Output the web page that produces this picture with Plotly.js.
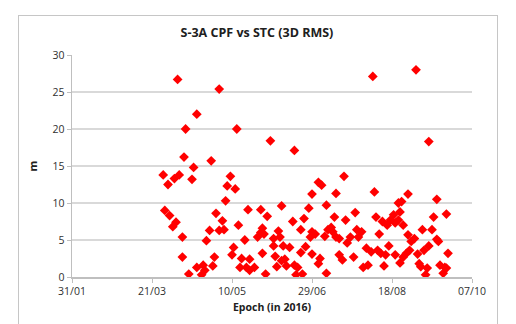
<!DOCTYPE html>
<html>
<head>
<meta charset="utf-8">
<script src="https://cdn.plot.ly/plotly-3.0.1.min.js"></script>
<style>
  html, body { margin: 0; padding: 0; background: #ffffff; overflow: hidden; }
  #chart { position: absolute; left: 0; top: 0; width: 516px; height: 324px; }
  #frame { position: absolute; left: 18px; top: 15px; width: 478px; height: 330px;
           border: 1.5px solid #c6c6c6; pointer-events: none; }
</style>
</head>
<body>
<div id="chart"></div>
<div id="frame"></div>
<script>
// Epoch dates (2016) and 3D RMS values (m)
const epochs = [
  '2016-04-06','2016-05-02','2016-04-18','2016-04-11','2016-05-13','2016-06-03','2016-06-18','2016-08-06','2016-09-02','2016-09-10',
  '2016-04-10','2016-04-27','2016-04-16','2016-03-28','2016-03-31','2016-04-04','2016-04-07','2016-04-15','2016-05-09','2016-05-07',
  '2016-05-12','2016-05-06','2016-03-29','2016-04-01','2016-04-05','2016-04-03','2016-04-09','2016-04-30','2016-05-04','2016-04-26',
  '2016-05-02','2016-05-05','2016-04-24','2016-04-09','2016-04-29','2016-05-10','2016-05-11','2016-04-28','2016-04-22','2016-04-23',
  '2016-04-18','2016-04-13','2016-04-21','2016-06-29','2016-07-03','2016-07-05','2016-05-20','2016-05-28','2016-06-01','2016-06-10',
  '2016-06-27','2016-06-24','2016-06-17','2016-05-14','2016-05-29','2016-05-28','2016-05-26','2016-05-30','2016-06-08','2016-06-09',
  '2016-06-05','2016-06-22','2016-06-29','2016-06-28','2016-07-01','2016-05-18','2016-06-05','2016-06-11','2016-06-15','2016-06-25',
  '2016-05-29','2016-06-06','2016-06-12','2016-06-10','2016-06-22','2016-06-29','2016-05-16','2016-05-21','2016-05-15','2016-05-19',
  '2016-05-24','2016-05-21','2016-06-07','2016-06-13','2016-06-18','2016-06-20','2016-05-31','2016-06-19','2016-06-23','2016-07-19',
  '2016-07-14','2016-08-07','2016-07-08','2016-08-22','2016-07-26','2016-07-13','2016-07-20','2016-08-08','2016-08-12','2016-08-17',
  '2016-08-19','2016-08-15','2016-08-20','2016-07-11','2016-07-09','2016-07-12','2016-07-07','2016-07-14','2016-07-16','2016-07-27',
  '2016-07-30','2016-07-28','2016-07-23','2016-07-21','2016-08-10','2016-08-16','2016-08-02','2016-08-05','2016-08-09','2016-08-11',
  '2016-08-14','2016-07-16','2016-07-18','2016-07-04','2016-07-03','2016-07-25','2016-08-03','2016-07-31','2016-08-13','2016-08-20',
  '2016-07-08','2016-08-28','2016-08-24','2016-09-15','2016-09-21','2016-08-23','2016-08-22','2016-09-13','2016-08-25','2016-09-06',
  '2016-09-12','2016-08-28','2016-09-01','2016-08-30','2016-09-15','2016-09-16','2016-09-10','2016-08-29','2016-08-27','2016-08-25',
  '2016-08-23','2016-09-03','2016-09-07','2016-09-22','2016-09-04','2016-09-05','2016-09-09','2016-09-08','2016-09-17','2016-09-20',
  '2016-09-19','2016-09-21'
];
const rms = [
  26.7, 25.4, 22.0, 20.0, 20.0, 18.4, 17.1, 27.1, 28.0, 18.3,
  16.2, 15.7, 14.8, 13.8, 12.5, 13.3, 13.8, 13.2, 13.6, 12.3,
  11.9, 10.3, 9.0, 8.3, 7.4, 6.8, 5.4, 8.6, 7.6, 6.3,
  6.3, 6.4, 4.9, 2.7, 2.7, 3.0, 4.0, 1.5, 1.6, 0.9,
  1.3, 0.4, 0.3, 11.2, 12.8, 12.4, 9.1, 9.1, 8.2, 9.6,
  9.3, 7.9, 7.5, 7.0, 6.6, 6.0, 5.4, 5.8, 6.2, 5.4,
  5.2, 6.4, 6.1, 5.4, 5.8, 5.0, 4.2, 4.2, 4.0, 4.1,
  3.2, 2.8, 2.4, 2.2, 3.3, 3.1, 2.5, 2.4, 1.3, 1.3,
  1.3, 0.9, 1.4, 1.5, 1.6, 1.3, 0.4, 0.3, 0.4, 13.6,
  11.3, 11.5, 9.7, 10.0, 8.7, 8.1, 7.7, 8.1, 7.5, 7.7,
  8.4, 7.0, 7.3, 6.7, 6.4, 6.1, 5.5, 5.4, 5.2, 6.4,
  6.1, 5.4, 5.4, 4.6, 5.8, 4.2, 3.9, 3.4, 3.6, 3.2,
  3.0, 3.0, 2.3, 2.5, 1.8, 2.7, 1.6, 1.3, 1.5, 3.0,
  0.5, 11.2, 10.2, 10.5, 8.5, 8.8, 7.7, 8.1, 7.0, 6.4,
  6.4, 5.7, 5.2, 4.8, 5.1, 4.8, 4.2, 3.6, 3.2, 2.7,
  1.9, 3.1, 3.6, 3.2, 1.8, 1.4, 1.2, 0.3, 1.6, 1.3,
  0.5, 1.2
];
const chartTitle = 'S-3A CPF vs STC (3D RMS)';
const xTitle = 'Epoch (in 2016)';
const yTitle = 'm';
const xRange = ['2016-01-31', '2016-10-07'];
const yRange = [0, 30];

const fontFam = '"Open Sans", "Liberation Sans", sans-serif';

const trace = {
  type: 'scatter',
  mode: 'markers',
  x: epochs,
  y: rms,
  marker: { symbol: 'diamond', size: 7.5, color: '#ff0000', line: { width: 0 } },
  hoverinfo: 'skip'
};

const layout = {
  width: 516, height: 324,
  margin: { l: 72, r: 44, t: 55, b: 47, pad: 0 },
  paper_bgcolor: 'rgba(0,0,0,0)',
  plot_bgcolor: '#ffffff',
  showlegend: false,
  font: { family: fontFam, color: '#333333', size: 10.5 },
  title: {
    text: '<b>' + chartTitle + '</b>',
    font: { family: fontFam, size: 12.5, color: '#202020' },
    x: 0.498, xref: 'container', xanchor: 'center',
    y: 0.9, yref: 'container', yanchor: 'middle'
  },
  xaxis: {
    type: 'date',
    range: xRange,
    tick0: '2016-01-31',
    dtick: 50 * 86400000,
    tickformat: '%d/%m',
    showgrid: false,
    zeroline: false,
    showline: true, linecolor: '#bfbfbf', linewidth: 1.5,
    ticks: 'outside', ticklen: 4, tickcolor: '#bfbfbf', tickwidth: 1,
    tickfont: { family: fontFam, size: 10.5, color: '#303030' },
    title: { text: '<b>' + xTitle + '</b>', font: { family: fontFam, size: 10.5, color: '#202020' }, standoff: 6 }
  },
  yaxis: {
    range: yRange,
    dtick: 5,
    showgrid: true, gridcolor: '#d9d9d9', gridwidth: 1.5,
    zeroline: false,
    showline: true, linecolor: '#bfbfbf', linewidth: 1.5,
    ticks: 'outside', ticklen: 4, tickcolor: '#bfbfbf', tickwidth: 1,
    tickfont: { family: fontFam, size: 10.5, color: '#303030' },
    title: { text: '<b>' + yTitle + '</b>', font: { family: fontFam, size: 11, color: '#202020' }, standoff: 12 }
  }
};

Plotly.newPlot('chart', [trace], layout, { staticPlot: true, displayModeBar: false });
</script>
</body>
</html>
